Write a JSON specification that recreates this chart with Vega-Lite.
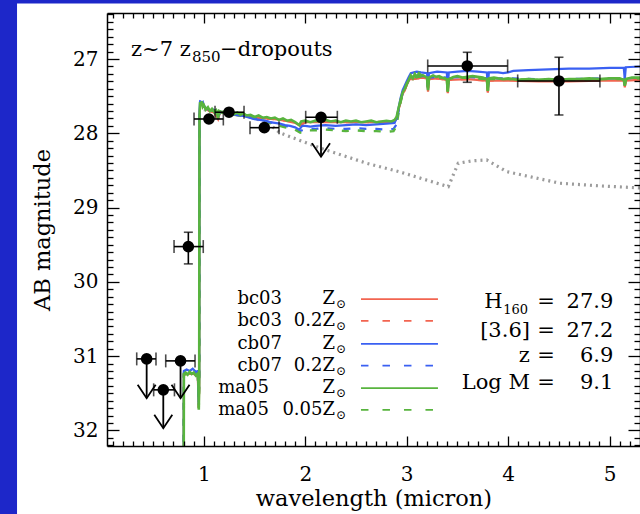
{
"$schema": "https://vega.github.io/schema/vega-lite/v6.json",
"width": 533,
"height": 433,
"autosize": "none",
"padding": {"left": 107, "top": 13, "right": 0, "bottom": 68},
"background": "#1d27c9",
"config": {
  "view": {"stroke": null, "fill": "white"},
  "font": "DejaVu Serif",
  "axis": {"labelFont": "DejaVu Serif", "labelFontSize": 20, "labelColor": "#000", "titleFont": "DejaVu Serif", "titleFontSize": 22.5, "titleFontWeight": "normal", "titleColor": "#000", "domainColor": "#000", "domainWidth": 1.5, "tickColor": "#000", "tickWidth": 1.3, "grid": false, "labelFlush": false, "labelOverlap": false, "labelBound": false},
  "text": {"font": "DejaVu Serif", "color": "#000"}
},
"datasets": {
  "gray": [{"wl":1.0,"mag":27.68},{"wl":1.4,"mag":27.76},{"wl":1.62,"mag":27.85},{"wl":1.751,"mag":27.995},{"wl":2.145,"mag":28.197},{"wl":2.605,"mag":28.403},{"wl":2.934,"mag":28.52},{"wl":3.41,"mag":28.718},{"wl":3.508,"mag":28.403},{"wl":3.65,"mag":28.37},{"wl":3.789,"mag":28.358},{"wl":3.986,"mag":28.516},{"wl":4.511,"mag":28.672},{"wl":4.906,"mag":28.708},{"wl":5.3,"mag":28.735}],
  "rs": [{"wl":0.79,"mag":33},{"wl":0.801,"mag":33},{"wl":0.803,"mag":31.25},{"wl":0.85,"mag":31.24},{"wl":0.9,"mag":31.24},{"wl":0.94,"mag":31.27},{"wl":0.95,"mag":31.7},{"wl":0.954,"mag":31.37},{"wl":0.957,"mag":27.77},{"wl":0.965,"mag":27.6},{"wl":0.98,"mag":27.6},{"wl":1.0,"mag":27.64},{"wl":1.05,"mag":27.7},{"wl":1.1,"mag":27.72},{"wl":1.14,"mag":27.81},{"wl":1.16,"mag":27.72},{"wl":1.2,"mag":27.73},{"wl":1.3,"mag":27.75},{"wl":1.4,"mag":27.76},{"wl":1.5,"mag":27.79},{"wl":1.6,"mag":27.8},{"wl":1.7,"mag":27.81},{"wl":1.8,"mag":27.83},{"wl":1.9,"mag":27.86},{"wl":1.95,"mag":27.9},{"wl":2.0,"mag":27.85},{"wl":2.2,"mag":27.85},{"wl":2.4,"mag":27.85},{"wl":2.6,"mag":27.85},{"wl":2.8,"mag":27.85},{"wl":2.88,"mag":27.84},{"wl":2.9,"mag":27.8},{"wl":2.92,"mag":27.68},{"wl":2.94,"mag":27.57},{"wl":2.96,"mag":27.47},{"wl":2.98,"mag":27.42},{"wl":3.0,"mag":27.35},{"wl":3.03,"mag":27.27},{"wl":3.06,"mag":27.27},{"wl":3.1,"mag":27.26},{"wl":3.15,"mag":27.25},{"wl":3.2,"mag":27.26},{"wl":3.21,"mag":27.44},{"wl":3.22,"mag":27.27},{"wl":3.3,"mag":27.26},{"wl":3.395,"mag":27.28},{"wl":3.405,"mag":27.46},{"wl":3.415,"mag":27.28},{"wl":3.6,"mag":27.27},{"wl":3.79,"mag":27.29},{"wl":3.8,"mag":27.45},{"wl":3.81,"mag":27.29},{"wl":4.0,"mag":27.29},{"wl":4.3,"mag":27.3},{"wl":4.6,"mag":27.3},{"wl":4.9,"mag":27.29},{"wl":5.14,"mag":27.29},{"wl":5.15,"mag":27.38},{"wl":5.16,"mag":27.29},{"wl":5.3,"mag":27.28}],
  "rd": [{"wl":0.79,"mag":33},{"wl":0.801,"mag":33},{"wl":0.803,"mag":31.24},{"wl":0.85,"mag":31.23},{"wl":0.9,"mag":31.23},{"wl":0.94,"mag":31.26},{"wl":0.95,"mag":31.69},{"wl":0.954,"mag":31.36},{"wl":0.957,"mag":27.76},{"wl":0.965,"mag":27.6},{"wl":0.98,"mag":27.61},{"wl":1.0,"mag":27.64},{"wl":1.05,"mag":27.69},{"wl":1.1,"mag":27.71},{"wl":1.14,"mag":27.8},{"wl":1.16,"mag":27.72},{"wl":1.2,"mag":27.73},{"wl":1.3,"mag":27.75},{"wl":1.4,"mag":27.76},{"wl":1.5,"mag":27.79},{"wl":1.6,"mag":27.8},{"wl":1.7,"mag":27.81},{"wl":1.8,"mag":27.83},{"wl":1.9,"mag":27.85},{"wl":1.95,"mag":27.88},{"wl":2.0,"mag":27.85},{"wl":2.2,"mag":27.84},{"wl":2.4,"mag":27.85},{"wl":2.6,"mag":27.85},{"wl":2.8,"mag":27.84},{"wl":2.88,"mag":27.84},{"wl":2.9,"mag":27.8},{"wl":2.92,"mag":27.68},{"wl":2.94,"mag":27.57},{"wl":2.96,"mag":27.47},{"wl":2.98,"mag":27.42},{"wl":3.0,"mag":27.35},{"wl":3.03,"mag":27.28},{"wl":3.06,"mag":27.27},{"wl":3.1,"mag":27.26},{"wl":3.2,"mag":27.26},{"wl":3.21,"mag":27.44},{"wl":3.22,"mag":27.27},{"wl":3.3,"mag":27.26},{"wl":3.395,"mag":27.28},{"wl":3.405,"mag":27.45},{"wl":3.415,"mag":27.28},{"wl":3.6,"mag":27.27},{"wl":3.79,"mag":27.29},{"wl":3.8,"mag":27.45},{"wl":3.81,"mag":27.29},{"wl":4.0,"mag":27.28},{"wl":4.3,"mag":27.29},{"wl":4.6,"mag":27.29},{"wl":4.9,"mag":27.28},{"wl":5.14,"mag":27.28},{"wl":5.15,"mag":27.37},{"wl":5.16,"mag":27.28},{"wl":5.3,"mag":27.27}],
  "bd": [{"wl":0.79,"mag":33},{"wl":0.801,"mag":33},{"wl":0.803,"mag":31.22},{"wl":0.85,"mag":31.2},{"wl":0.9,"mag":31.22},{"wl":0.94,"mag":31.23},{"wl":0.95,"mag":31.66},{"wl":0.954,"mag":31.32},{"wl":0.957,"mag":27.72},{"wl":0.965,"mag":27.58},{"wl":0.98,"mag":27.6},{"wl":1.0,"mag":27.63},{"wl":1.05,"mag":27.68},{"wl":1.1,"mag":27.7},{"wl":1.14,"mag":27.79},{"wl":1.16,"mag":27.71},{"wl":1.2,"mag":27.72},{"wl":1.3,"mag":27.75},{"wl":1.4,"mag":27.77},{"wl":1.5,"mag":27.8},{"wl":1.6,"mag":27.83},{"wl":1.7,"mag":27.87},{"wl":1.8,"mag":27.9},{"wl":1.9,"mag":27.93},{"wl":1.95,"mag":27.97},{"wl":2.0,"mag":27.94},{"wl":2.1,"mag":27.94},{"wl":2.2,"mag":27.93},{"wl":2.3,"mag":27.94},{"wl":2.4,"mag":27.94},{"wl":2.5,"mag":27.93},{"wl":2.6,"mag":27.94},{"wl":2.7,"mag":27.94},{"wl":2.8,"mag":27.95},{"wl":2.87,"mag":27.94},{"wl":2.9,"mag":27.88},{"wl":2.92,"mag":27.7},{"wl":2.94,"mag":27.56},{"wl":2.96,"mag":27.46},{"wl":2.98,"mag":27.4},{"wl":3.0,"mag":27.33},{"wl":3.03,"mag":27.26},{"wl":3.06,"mag":27.24},{"wl":3.1,"mag":27.23},{"wl":3.2,"mag":27.23},{"wl":3.21,"mag":27.4},{"wl":3.22,"mag":27.25},{"wl":3.3,"mag":27.24},{"wl":3.395,"mag":27.25},{"wl":3.405,"mag":27.42},{"wl":3.415,"mag":27.25},{"wl":3.6,"mag":27.24},{"wl":3.79,"mag":27.26},{"wl":3.8,"mag":27.41},{"wl":3.81,"mag":27.26},{"wl":4.0,"mag":27.26},{"wl":4.3,"mag":27.27},{"wl":4.6,"mag":27.27},{"wl":4.9,"mag":27.26},{"wl":5.14,"mag":27.26},{"wl":5.15,"mag":27.35},{"wl":5.16,"mag":27.26},{"wl":5.3,"mag":27.25}],
  "gd": [{"wl":0.79,"mag":33},{"wl":0.801,"mag":33},{"wl":0.803,"mag":31.25},{"wl":0.85,"mag":31.23},{"wl":0.9,"mag":31.24},{"wl":0.94,"mag":31.26},{"wl":0.95,"mag":31.7},{"wl":0.954,"mag":31.36},{"wl":0.957,"mag":27.76},{"wl":0.965,"mag":27.6},{"wl":0.98,"mag":27.6},{"wl":1.0,"mag":27.64},{"wl":1.05,"mag":27.69},{"wl":1.1,"mag":27.7},{"wl":1.14,"mag":27.8},{"wl":1.16,"mag":27.71},{"wl":1.2,"mag":27.72},{"wl":1.3,"mag":27.75},{"wl":1.4,"mag":27.77},{"wl":1.5,"mag":27.8},{"wl":1.6,"mag":27.84},{"wl":1.7,"mag":27.88},{"wl":1.8,"mag":27.92},{"wl":1.9,"mag":27.95},{"wl":1.95,"mag":27.99},{"wl":2.0,"mag":27.96},{"wl":2.1,"mag":27.96},{"wl":2.2,"mag":27.95},{"wl":2.3,"mag":27.96},{"wl":2.4,"mag":27.97},{"wl":2.5,"mag":27.96},{"wl":2.6,"mag":27.97},{"wl":2.7,"mag":27.97},{"wl":2.8,"mag":27.98},{"wl":2.87,"mag":27.97},{"wl":2.9,"mag":27.9},{"wl":2.92,"mag":27.72},{"wl":2.94,"mag":27.58},{"wl":2.96,"mag":27.47},{"wl":2.98,"mag":27.41},{"wl":3.0,"mag":27.34},{"wl":3.03,"mag":27.27},{"wl":3.06,"mag":27.25},{"wl":3.1,"mag":27.24},{"wl":3.2,"mag":27.24},{"wl":3.21,"mag":27.42},{"wl":3.22,"mag":27.26},{"wl":3.3,"mag":27.25},{"wl":3.395,"mag":27.26},{"wl":3.405,"mag":27.44},{"wl":3.415,"mag":27.26},{"wl":3.6,"mag":27.25},{"wl":3.79,"mag":27.27},{"wl":3.8,"mag":27.43},{"wl":3.81,"mag":27.27},{"wl":4.0,"mag":27.27},{"wl":4.3,"mag":27.28},{"wl":4.6,"mag":27.28},{"wl":4.9,"mag":27.27},{"wl":5.14,"mag":27.27},{"wl":5.15,"mag":27.36},{"wl":5.16,"mag":27.27},{"wl":5.3,"mag":27.26}],
  "bs": [{"wl":0.79,"mag":33},{"wl":0.801,"mag":33},{"wl":0.803,"mag":31.2},{"wl":0.83,"mag":31.18},{"wl":0.86,"mag":31.2},{"wl":0.89,"mag":31.17},{"wl":0.92,"mag":31.21},{"wl":0.94,"mag":31.2},{"wl":0.948,"mag":31.62},{"wl":0.953,"mag":31.3},{"wl":0.957,"mag":27.7},{"wl":0.963,"mag":27.56},{"wl":0.975,"mag":27.6},{"wl":0.99,"mag":27.58},{"wl":1.0,"mag":27.63},{"wl":1.03,"mag":27.67},{"wl":1.06,"mag":27.69},{"wl":1.09,"mag":27.68},{"wl":1.12,"mag":27.71},{"wl":1.14,"mag":27.78},{"wl":1.16,"mag":27.71},{"wl":1.2,"mag":27.72},{"wl":1.25,"mag":27.73},{"wl":1.3,"mag":27.75},{"wl":1.35,"mag":27.76},{"wl":1.4,"mag":27.77},{"wl":1.45,"mag":27.79},{"wl":1.5,"mag":27.81},{"wl":1.55,"mag":27.82},{"wl":1.6,"mag":27.83},{"wl":1.65,"mag":27.85},{"wl":1.7,"mag":27.86},{"wl":1.75,"mag":27.87},{"wl":1.8,"mag":27.89},{"wl":1.85,"mag":27.9},{"wl":1.9,"mag":27.92},{"wl":1.94,"mag":27.95},{"wl":1.97,"mag":27.9},{"wl":2.0,"mag":27.9},{"wl":2.05,"mag":27.91},{"wl":2.1,"mag":27.9},{"wl":2.2,"mag":27.89},{"wl":2.3,"mag":27.9},{"wl":2.4,"mag":27.89},{"wl":2.5,"mag":27.88},{"wl":2.6,"mag":27.89},{"wl":2.7,"mag":27.88},{"wl":2.8,"mag":27.87},{"wl":2.88,"mag":27.86},{"wl":2.9,"mag":27.8},{"wl":2.92,"mag":27.66},{"wl":2.94,"mag":27.52},{"wl":2.96,"mag":27.42},{"wl":2.98,"mag":27.36},{"wl":3.0,"mag":27.3},{"wl":3.02,"mag":27.24},{"wl":3.04,"mag":27.19},{"wl":3.07,"mag":27.18},{"wl":3.1,"mag":27.17},{"wl":3.14,"mag":27.18},{"wl":3.2,"mag":27.19},{"wl":3.21,"mag":27.36},{"wl":3.22,"mag":27.19},{"wl":3.3,"mag":27.17},{"wl":3.395,"mag":27.18},{"wl":3.405,"mag":27.38},{"wl":3.415,"mag":27.18},{"wl":3.5,"mag":27.17},{"wl":3.6,"mag":27.16},{"wl":3.7,"mag":27.17},{"wl":3.79,"mag":27.18},{"wl":3.8,"mag":27.37},{"wl":3.81,"mag":27.18},{"wl":3.9,"mag":27.18},{"wl":3.95,"mag":27.19},{"wl":4.0,"mag":27.18},{"wl":4.05,"mag":27.16},{"wl":4.2,"mag":27.15},{"wl":4.4,"mag":27.14},{"wl":4.6,"mag":27.13},{"wl":4.8,"mag":27.13},{"wl":5.0,"mag":27.12},{"wl":5.14,"mag":27.12},{"wl":5.15,"mag":27.27},{"wl":5.16,"mag":27.11},{"wl":5.3,"mag":27.1}],
  "gs": [{"wl":0.79,"mag":33},{"wl":0.801,"mag":33},{"wl":0.803,"mag":31.24},{"wl":0.82,"mag":31.22},{"wl":0.84,"mag":31.25},{"wl":0.86,"mag":31.21},{"wl":0.88,"mag":31.24},{"wl":0.9,"mag":31.22},{"wl":0.92,"mag":31.26},{"wl":0.935,"mag":31.24},{"wl":0.945,"mag":31.3},{"wl":0.95,"mag":31.72},{"wl":0.954,"mag":31.36},{"wl":0.957,"mag":27.75},{"wl":0.963,"mag":27.58},{"wl":0.97,"mag":27.63},{"wl":0.98,"mag":27.57},{"wl":0.99,"mag":27.64},{"wl":1.0,"mag":27.62},{"wl":1.02,"mag":27.68},{"wl":1.04,"mag":27.65},{"wl":1.06,"mag":27.7},{"wl":1.08,"mag":27.67},{"wl":1.1,"mag":27.71},{"wl":1.12,"mag":27.69},{"wl":1.14,"mag":27.8},{"wl":1.15,"mag":27.7},{"wl":1.18,"mag":27.72},{"wl":1.21,"mag":27.7},{"wl":1.24,"mag":27.73},{"wl":1.27,"mag":27.71},{"wl":1.3,"mag":27.74},{"wl":1.33,"mag":27.72},{"wl":1.36,"mag":27.75},{"wl":1.39,"mag":27.73},{"wl":1.42,"mag":27.76},{"wl":1.46,"mag":27.75},{"wl":1.5,"mag":27.78},{"wl":1.54,"mag":27.76},{"wl":1.58,"mag":27.79},{"wl":1.62,"mag":27.78},{"wl":1.66,"mag":27.8},{"wl":1.7,"mag":27.79},{"wl":1.74,"mag":27.82},{"wl":1.78,"mag":27.8},{"wl":1.82,"mag":27.83},{"wl":1.86,"mag":27.82},{"wl":1.9,"mag":27.85},{"wl":1.94,"mag":27.89},{"wl":1.96,"mag":27.84},{"wl":2.0,"mag":27.83},{"wl":2.05,"mag":27.85},{"wl":2.1,"mag":27.83},{"wl":2.15,"mag":27.84},{"wl":2.2,"mag":27.82},{"wl":2.25,"mag":27.84},{"wl":2.3,"mag":27.83},{"wl":2.35,"mag":27.85},{"wl":2.4,"mag":27.83},{"wl":2.45,"mag":27.84},{"wl":2.5,"mag":27.83},{"wl":2.55,"mag":27.85},{"wl":2.6,"mag":27.84},{"wl":2.65,"mag":27.83},{"wl":2.7,"mag":27.85},{"wl":2.75,"mag":27.84},{"wl":2.8,"mag":27.83},{"wl":2.85,"mag":27.84},{"wl":2.88,"mag":27.82},{"wl":2.9,"mag":27.78},{"wl":2.92,"mag":27.66},{"wl":2.94,"mag":27.55},{"wl":2.96,"mag":27.45},{"wl":2.98,"mag":27.4},{"wl":3.0,"mag":27.33},{"wl":3.02,"mag":27.28},{"wl":3.04,"mag":27.22},{"wl":3.06,"mag":27.26},{"wl":3.08,"mag":27.2},{"wl":3.1,"mag":27.24},{"wl":3.12,"mag":27.19},{"wl":3.14,"mag":27.22},{"wl":3.16,"mag":27.22},{"wl":3.2,"mag":27.25},{"wl":3.21,"mag":27.42},{"wl":3.22,"mag":27.25},{"wl":3.26,"mag":27.22},{"wl":3.29,"mag":27.24},{"wl":3.32,"mag":27.23},{"wl":3.35,"mag":27.25},{"wl":3.395,"mag":27.27},{"wl":3.405,"mag":27.44},{"wl":3.415,"mag":27.27},{"wl":3.46,"mag":27.24},{"wl":3.5,"mag":27.23},{"wl":3.55,"mag":27.25},{"wl":3.6,"mag":27.24},{"wl":3.65,"mag":27.23},{"wl":3.7,"mag":27.24},{"wl":3.75,"mag":27.25},{"wl":3.79,"mag":27.27},{"wl":3.8,"mag":27.43},{"wl":3.81,"mag":27.26},{"wl":3.86,"mag":27.25},{"wl":3.9,"mag":27.26},{"wl":3.95,"mag":27.27},{"wl":4.0,"mag":27.26},{"wl":4.1,"mag":27.28},{"wl":4.2,"mag":27.27},{"wl":4.3,"mag":27.28},{"wl":4.4,"mag":27.27},{"wl":4.5,"mag":27.28},{"wl":4.6,"mag":27.27},{"wl":4.7,"mag":27.27},{"wl":4.8,"mag":27.26},{"wl":4.9,"mag":27.27},{"wl":5.0,"mag":27.26},{"wl":5.1,"mag":27.26},{"wl":5.14,"mag":27.28},{"wl":5.15,"mag":27.36},{"wl":5.16,"mag":27.27},{"wl":5.22,"mag":27.25},{"wl":5.3,"mag":27.25}],
  "phot": [{"wl":0.436,"mag":31.037,"xlo":0.338,"xhi":0.528,"lim":31.566},{"wl":0.6,"mag":31.454,"xlo":0.505,"xhi":0.71,"lim":31.97},{"wl":0.77,"mag":31.064,"xlo":0.624,"xhi":0.913,"lim":31.566},{"wl":0.847,"mag":29.525,"xlo":0.706,"xhi":0.994,"ylo":29.332,"yhi":29.758},{"wl":1.05,"mag":27.807,"xlo":0.903,"xhi":1.192},{"wl":1.248,"mag":27.716,"xlo":1.11,"xhi":1.396},{"wl":1.596,"mag":27.924,"xlo":1.455,"xhi":1.741},{"wl":2.155,"mag":27.784,"xlo":2.004,"xhi":2.316,"lim":28.314},{"wl":3.597,"mag":27.093,"xlo":3.207,"xhi":3.995,"ylo":26.909,"yhi":27.313},{"wl":4.501,"mag":27.295,"xlo":4.094,"xhi":4.905,"ylo":26.976,"yhi":27.753}],
  "leg": [{"model":"bc03","metal":"Z","dash":"solid","mag":30.233},{"model":"bc03","metal":"0.2Z","dash":"dashed","mag":30.525},{"model":"cb07","metal":"Z","dash":"solid","mag":30.835},{"model":"cb07","metal":"0.2Z","dash":"dashed","mag":31.127},{"model":"ma05","metal":"Z","dash":"solid","mag":31.431},{"model":"ma05","metal":"0.05Z","dash":"dashed","mag":31.723}],
  "stats": [{"lab":"H","val":"27.9","mag":30.27},{"lab":"[3.6]","val":"27.2","mag":30.66},{"lab":"z","val":"6.9","mag":30.997},{"lab":"Log M","val":"9.1","mag":31.364}]
},
"layer": [
  {"data": {"values": [{}]}, "mark": {"type": "rect", "fill": "white"},
   "encoding": {
     "x": {"datum": -0.842, "type": "quantitative", "scale": {"domain": [0.045, 5.3], "nice": false, "zero": false},
           "axis": {"orient": "top", "zindex": 1, "labels": false, "title": null, "values": [0.1,0.2,0.3,0.4,0.5,0.6,0.7,0.8,0.9,1,1.1,1.2,1.3,1.4,1.5,1.6,1.7,1.8,1.9,2,2.1,2.2,2.3,2.4,2.5,2.6,2.7,2.8,2.9,3,3.1,3.2,3.3,3.4,3.5,3.6,3.7,3.8,3.9,4,4.1,4.2,4.3,4.4,4.5,4.6,4.7,4.8,4.9,5,5.1,5.2],
                    "tickSize": {"condition": {"test": "abs(datum.value-round(datum.value))<0.01", "value": -10}, "value": -5}}},
     "x2": {"datum": 6.5},
     "y": {"datum": 26.252, "type": "quantitative", "scale": {"domain": [26.38, 32.21], "reverse": true, "nice": false, "zero": false},
           "axis": {"orient": "right", "zindex": 1, "labels": false, "title": null, "values": [26.4,26.5,26.6,26.7,26.8,26.9,27,27.1,27.2,27.3,27.4,27.5,27.6,27.7,27.8,27.9,28,28.1,28.2,28.3,28.4,28.5,28.6,28.7,28.8,28.9,29,29.1,29.2,29.3,29.4,29.5,29.6,29.7,29.8,29.9,30,30.1,30.2,30.3,30.4,30.5,30.6,30.7,30.8,30.9,31,31.1,31.2,31.3,31.4,31.5,31.6,31.7,31.8,31.9,32,32.1,32.2],
                    "tickSize": {"condition": {"test": "abs(datum.value-round(datum.value))<0.01", "value": -12}, "value": -6}}},
     "y2": {"datum": 34}}},
  {"data": {"name": "gray"}, "mark": {"type": "line", "clip": true, "color": "#9c9c9c", "strokeWidth": 3.2, "strokeDash": [2, 4]},
   "encoding": {
     "x": {"field": "wl", "type": "quantitative", "scale": {"domain": [0.045, 5.3], "nice": false, "zero": false},
           "axis": {"orient": "bottom", "zindex": 1, "title": "wavelength (micron)", "titlePadding": -2, "labelPadding": 28, "values": [0.1,0.2,0.3,0.4,0.5,0.6,0.7,0.8,0.9,1,1.1,1.2,1.3,1.4,1.5,1.6,1.7,1.8,1.9,2,2.1,2.2,2.3,2.4,2.5,2.6,2.7,2.8,2.9,3,3.1,3.2,3.3,3.4,3.5,3.6,3.7,3.8,3.9,4,4.1,4.2,4.3,4.4,4.5,4.6,4.7,4.8,4.9,5,5.1,5.2],
                    "labelExpr": "abs(datum.value-round(datum.value))<0.01 ? format(datum.value,'d') : ''",
                    "tickSize": {"condition": {"test": "abs(datum.value-round(datum.value))<0.01", "value": -10}, "value": -5}}},
     "y": {"field": "mag", "type": "quantitative", "scale": {"domain": [26.38, 32.21], "reverse": true, "nice": false, "zero": false},
           "axis": {"orient": "left", "zindex": 1, "title": "AB magnitude", "titlePadding": 18, "labelPadding": 21, "values": [26.4,26.5,26.6,26.7,26.8,26.9,27,27.1,27.2,27.3,27.4,27.5,27.6,27.7,27.8,27.9,28,28.1,28.2,28.3,28.4,28.5,28.6,28.7,28.8,28.9,29,29.1,29.2,29.3,29.4,29.5,29.6,29.7,29.8,29.9,30,30.1,30.2,30.3,30.4,30.5,30.6,30.7,30.8,30.9,31,31.1,31.2,31.3,31.4,31.5,31.6,31.7,31.8,31.9,32,32.1,32.2],
                    "labelExpr": "abs(datum.value-round(datum.value))<0.01 ? format(datum.value,'d') : ''",
                    "tickSize": {"condition": {"test": "abs(datum.value-round(datum.value))<0.01", "value": -12}, "value": -6}}}}},
  {"data": {"name": "rs"}, "mark": {"type": "line", "clip": true, "color": "#f26450", "strokeWidth": 2.2},
   "encoding": {"x": {"field": "wl", "type": "quantitative", "axis": null}, "y": {"field": "mag", "type": "quantitative", "axis": null}}},
  {"data": {"name": "rd"}, "mark": {"type": "line", "clip": true, "color": "#f26450", "strokeWidth": 2.2, "strokeDash": [7, 9]},
   "encoding": {"x": {"field": "wl", "type": "quantitative", "axis": null}, "y": {"field": "mag", "type": "quantitative", "axis": null}}},
  {"data": {"name": "bd"}, "mark": {"type": "line", "clip": true, "color": "#3a60f2", "strokeWidth": 2.2, "strokeDash": [7, 9]},
   "encoding": {"x": {"field": "wl", "type": "quantitative", "axis": null}, "y": {"field": "mag", "type": "quantitative", "axis": null}}},
  {"data": {"name": "gd"}, "mark": {"type": "line", "clip": true, "color": "#58b43e", "strokeWidth": 2.4, "strokeDash": [7, 9]},
   "encoding": {"x": {"field": "wl", "type": "quantitative", "axis": null}, "y": {"field": "mag", "type": "quantitative", "axis": null}}},
  {"data": {"name": "bs"}, "mark": {"type": "line", "clip": true, "color": "#3a60f2", "strokeWidth": 2.2},
   "encoding": {"x": {"field": "wl", "type": "quantitative", "axis": null}, "y": {"field": "mag", "type": "quantitative", "axis": null}}},
  {"data": {"name": "gs"}, "mark": {"type": "line", "clip": true, "color": "#58b43e", "strokeWidth": 2.6},
   "encoding": {"x": {"field": "wl", "type": "quantitative", "axis": null}, "y": {"field": "mag", "type": "quantitative", "axis": null}}},
  {"data": {"name": "leg"}, "mark": {"type": "rule", "strokeWidth": 1.8},
   "encoding": {"x": {"datum": 2.549, "type": "quantitative", "axis": null}, "x2": {"datum": 3.308},
                "y": {"field": "mag", "type": "quantitative", "axis": null},
                "color": {"field": "model", "type": "nominal", "scale": {"domain": ["bc03", "cb07", "ma05"], "range": ["#f26450", "#3a60f2", "#58b43e"]}, "legend": null},
                "strokeDash": {"field": "dash", "type": "nominal", "scale": {"domain": ["solid", "dashed"], "range": [[1, 0], [7.5, 14]]}, "legend": null}}},
  {"data": {"name": "leg"}, "transform": [{"filter": "datum.model != 'ma05'"}], "mark": {"type": "text", "align": "right", "baseline": "middle", "fontSize": 18},
   "encoding": {"x": {"datum": 1.77, "type": "quantitative", "axis": null}, "y": {"field": "mag", "type": "quantitative", "axis": null}, "text": {"field": "model"}}},
  {"data": {"name": "leg"}, "transform": [{"filter": "datum.model == 'ma05'"}], "mark": {"type": "text", "align": "right", "baseline": "middle", "fontSize": 18},
   "encoding": {"x": {"datum": 1.642, "type": "quantitative", "axis": null}, "y": {"field": "mag", "type": "quantitative", "axis": null}, "text": {"field": "model"}}},
  {"data": {"name": "leg"}, "mark": {"type": "text", "align": "right", "baseline": "middle", "fontSize": 18},
   "encoding": {"x": {"datum": 2.293, "type": "quantitative", "axis": null}, "y": {"field": "mag", "type": "quantitative", "axis": null}, "text": {"field": "metal"}}},
  {"data": {"name": "leg"}, "mark": {"type": "text", "align": "left", "baseline": "middle", "fontSize": 12, "dy": 5},
   "encoding": {"x": {"datum": 2.302, "type": "quantitative", "axis": null}, "y": {"field": "mag", "type": "quantitative", "axis": null}, "text": {"value": "⊙"}}},
  {"data": {"name": "stats"}, "transform": [{"filter": "datum.lab != 'H'"}], "mark": {"type": "text", "align": "right", "baseline": "middle", "fontSize": 21},
   "encoding": {"x": {"datum": 4.215, "type": "quantitative", "axis": null}, "y": {"field": "mag", "type": "quantitative", "axis": null}, "text": {"field": "lab"}}},
  {"data": {"name": "stats"}, "transform": [{"filter": "datum.lab == 'H'"}], "mark": {"type": "text", "align": "right", "baseline": "middle", "fontSize": 21},
   "encoding": {"x": {"datum": 3.946, "type": "quantitative", "axis": null}, "y": {"field": "mag", "type": "quantitative", "axis": null}, "text": {"field": "lab"}}},
  {"data": {"name": "stats"}, "transform": [{"filter": "datum.lab == 'H'"}], "mark": {"type": "text", "align": "left", "baseline": "middle", "fontSize": 13, "dy": 8},
   "encoding": {"x": {"datum": 3.952, "type": "quantitative", "axis": null}, "y": {"field": "mag", "type": "quantitative", "axis": null}, "text": {"value": "160"}}},
  {"data": {"name": "stats"}, "mark": {"type": "text", "align": "center", "baseline": "middle", "fontSize": 21},
   "encoding": {"x": {"datum": 4.373, "type": "quantitative", "axis": null}, "y": {"field": "mag", "type": "quantitative", "axis": null}, "text": {"value": "="}}},
  {"data": {"name": "stats"}, "mark": {"type": "text", "align": "right", "baseline": "middle", "fontSize": 21},
   "encoding": {"x": {"datum": 5.037, "type": "quantitative", "axis": null}, "y": {"field": "mag", "type": "quantitative", "axis": null}, "text": {"field": "val"}}},
  {"data": {"values": [{}]}, "mark": {"type": "text", "align": "left", "baseline": "alphabetic", "fontSize": 21},
   "encoding": {"x": {"datum": 0.282, "type": "quantitative", "axis": null}, "y": {"datum": 26.959, "type": "quantitative", "axis": null}, "text": {"value": "z~7 z"}}},
  {"data": {"values": [{}]}, "mark": {"type": "text", "align": "left", "baseline": "alphabetic", "fontSize": 15},
   "encoding": {"x": {"datum": 0.883, "type": "quantitative", "axis": null}, "y": {"datum": 27.046, "type": "quantitative", "axis": null}, "text": {"value": "850"}}},
  {"data": {"values": [{}]}, "mark": {"type": "text", "align": "left", "baseline": "alphabetic", "fontSize": 21},
   "encoding": {"x": {"datum": 1.16, "type": "quantitative", "axis": null}, "y": {"datum": 26.959, "type": "quantitative", "axis": null}, "text": {"value": "−dropouts"}}},
  {"data": {"name": "phot"}, "mark": {"type": "rule", "color": "#000", "strokeWidth": 1.6},
   "encoding": {"x": {"field": "xlo", "type": "quantitative", "axis": null}, "x2": {"field": "xhi"}, "y": {"field": "mag", "type": "quantitative", "axis": null}}},
  {"data": {"name": "phot"}, "mark": {"type": "tick", "orient": "vertical", "color": "#000", "size": 13, "thickness": 1.6},
   "encoding": {"x": {"field": "xlo", "type": "quantitative", "axis": null}, "y": {"field": "mag", "type": "quantitative", "axis": null}}},
  {"data": {"name": "phot"}, "mark": {"type": "tick", "orient": "vertical", "color": "#000", "size": 13, "thickness": 1.6},
   "encoding": {"x": {"field": "xhi", "type": "quantitative", "axis": null}, "y": {"field": "mag", "type": "quantitative", "axis": null}}},
  {"data": {"name": "phot"}, "transform": [{"filter": "isValid(datum.ylo)"}], "mark": {"type": "rule", "color": "#000", "strokeWidth": 1.6},
   "encoding": {"x": {"field": "wl", "type": "quantitative", "axis": null}, "y": {"field": "ylo", "type": "quantitative", "axis": null}, "y2": {"field": "yhi"}}},
  {"data": {"name": "phot"}, "transform": [{"filter": "isValid(datum.ylo)"}], "mark": {"type": "tick", "orient": "horizontal", "color": "#000", "size": 9, "thickness": 1.6},
   "encoding": {"x": {"field": "wl", "type": "quantitative", "axis": null}, "y": {"field": "ylo", "type": "quantitative", "axis": null}}},
  {"data": {"name": "phot"}, "transform": [{"filter": "isValid(datum.yhi)"}], "mark": {"type": "tick", "orient": "horizontal", "color": "#000", "size": 9, "thickness": 1.6},
   "encoding": {"x": {"field": "wl", "type": "quantitative", "axis": null}, "y": {"field": "yhi", "type": "quantitative", "axis": null}}},
  {"data": {"name": "phot"}, "transform": [{"filter": "isValid(datum.lim)"}], "mark": {"type": "rule", "color": "#000", "strokeWidth": 1.8},
   "encoding": {"x": {"field": "wl", "type": "quantitative", "axis": null}, "y": {"field": "mag", "type": "quantitative", "axis": null}, "y2": {"field": "lim"}}},
  {"data": {"name": "phot"}, "transform": [{"filter": "isValid(datum.lim)"}], "mark": {"type": "point", "shape": "M-1,-1.5L0,0L1,-1.5", "filled": false, "stroke": "#000", "strokeWidth": 1.8, "size": 324, "opacity": 1},
   "encoding": {"x": {"field": "wl", "type": "quantitative", "axis": null}, "y": {"field": "lim", "type": "quantitative", "axis": null}}},
  {"data": {"name": "phot"}, "mark": {"type": "point", "shape": "circle", "filled": true, "color": "#000", "size": 135, "opacity": 1},
   "encoding": {"x": {"field": "wl", "type": "quantitative", "axis": null}, "y": {"field": "mag", "type": "quantitative", "axis": null}}}
],
"resolve": {"axis": {"x": "independent", "y": "independent"}}
}
